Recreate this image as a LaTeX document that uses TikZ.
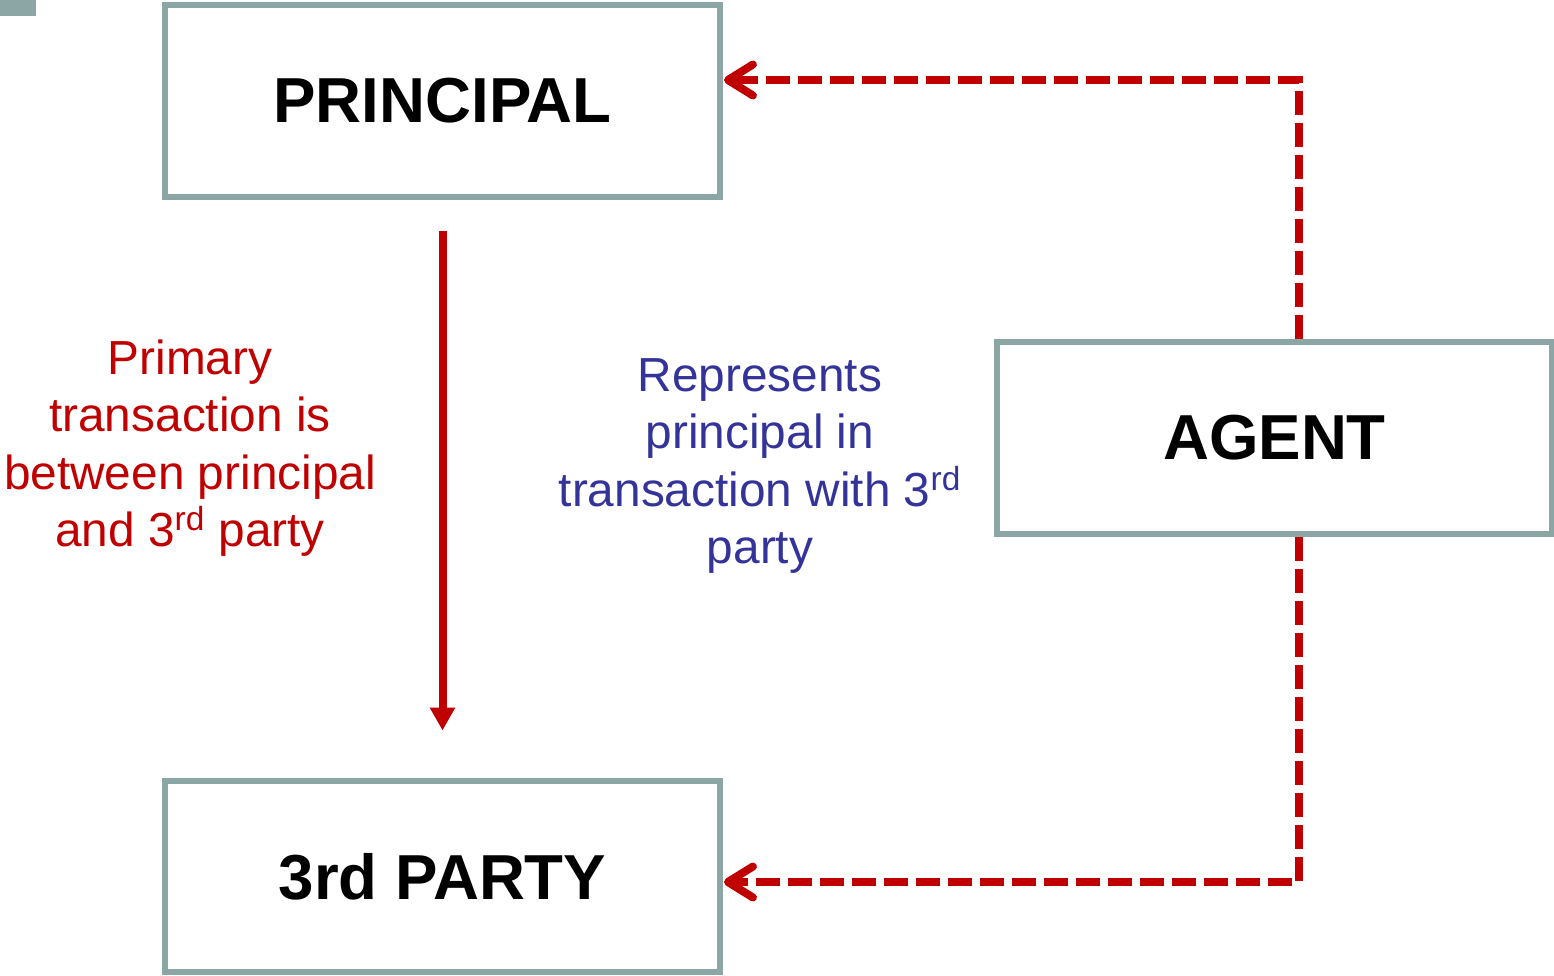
\documentclass[tikz,border=0pt]{standalone}
\usepackage{fontspec}
\setmainfont{Liberation Sans}
\usetikzlibrary{arrows.meta, positioning}

\definecolor{boxgray}{RGB}{140,165,165}
\definecolor{darkred}{RGB}{192,0,0}
\definecolor{textblue}{RGB}{51,51,153}

\begin{document}
\begin{tikzpicture}[
    x=0.02cm, y=-0.02cm,
    party/.style={
        rectangle,
        draw=boxgray,
        line width=0.12cm,
        minimum width=11.1cm,
        minimum height=3.84cm,
        font=\fontsize{36.2}{44}\selectfont\bfseries
    },
    note/.style={
        align=center,
        font=\fontsize{27.2}{32.7}\selectfont
    },
    arrow/.style={-{Triangle[length=0.46cm, width=0.48cm]}, line width=0.16cm, darkred},
    dasharrow/.style={-{Straight Barb[length=0.5cm, width=0.62cm, round]}, line width=0.16cm,
        darkred, dash pattern=on 0.48cm off 0.16cm}
]
\useasboundingbox (0,0) rectangle (1554,976);
\fill[boxgray] (0,0) rectangle (36,16);

\node[party] (principal) at (442.5,101) {PRINCIPAL};
\node[party] (third) at (442.5,876.5) {3rd PARTY};
\node[party] (agent) at (1274.5,438) {AGENT};

\node[note, text=darkred] (primary) at (190,448)
    {Primary\\transaction is\\between principal\\and 3\textsuperscript{rd} party};
\node[note, text=textblue] (represents) at (760,466)
    {Represents\\principal in\\transaction with 3\textsuperscript{rd}\\party};

% principal to 3rd party
\draw[arrow] ([yshift=-0.62cm]principal.south) -- ([yshift=0.94cm]third.north);

% agent acts on both sides
\draw[dasharrow] ([xshift=0.49cm]agent.north) |- ([xshift=0.02cm, yshift=0.42cm]principal.east);
\draw[dasharrow] ([xshift=0.49cm]agent.south) |- ([xshift=0.02cm, yshift=-0.11cm]third.east);

\end{tikzpicture}
\end{document}
